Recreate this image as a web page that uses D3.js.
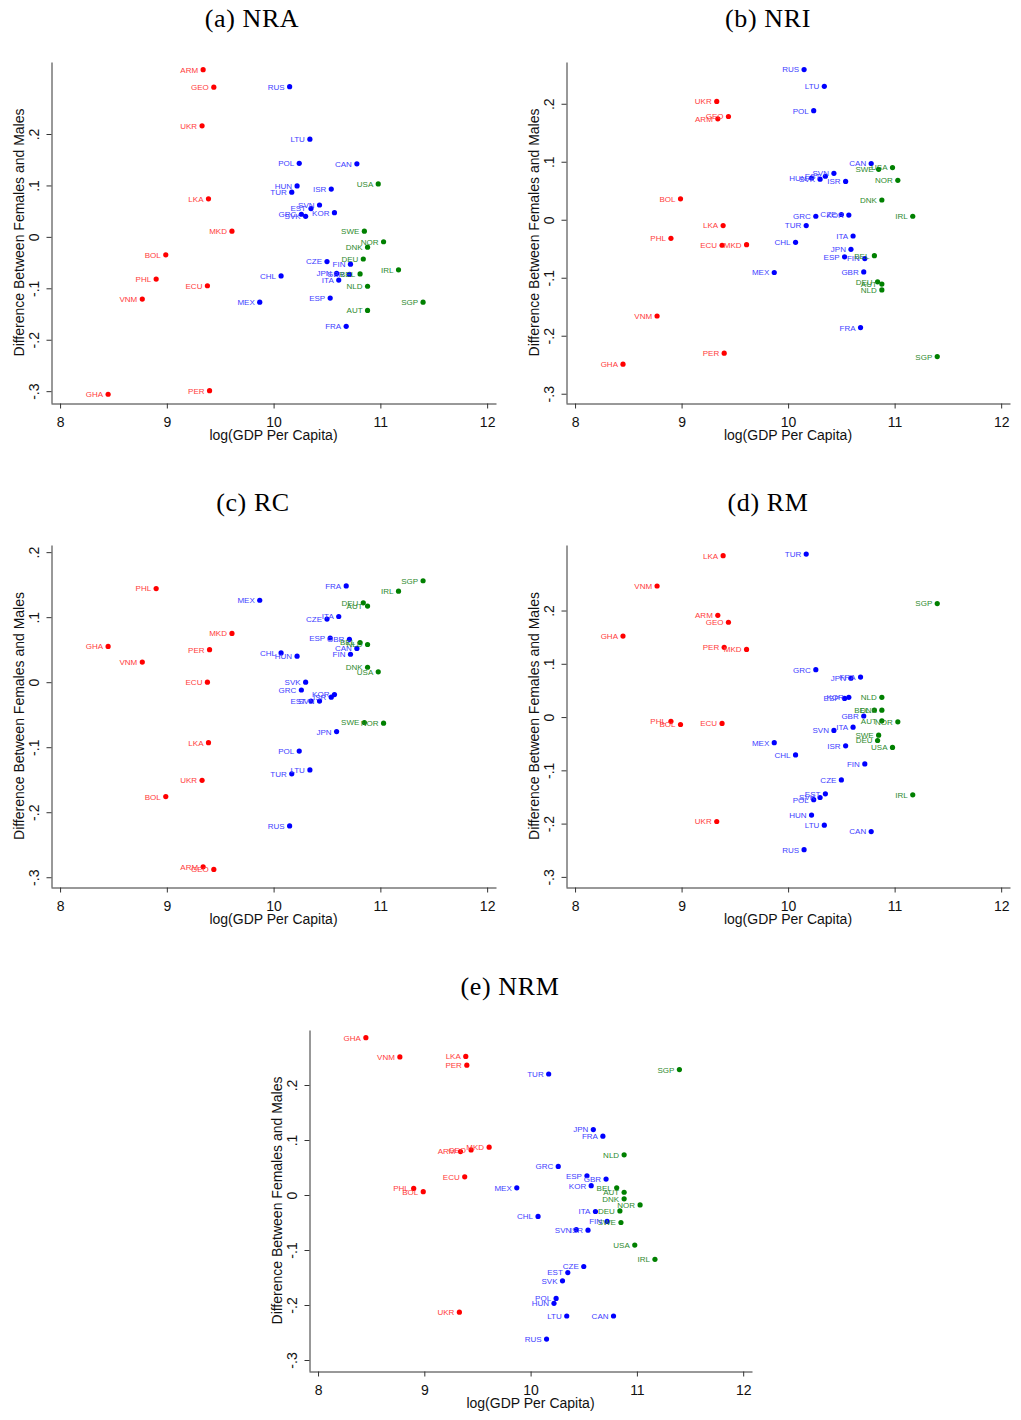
<!DOCTYPE html>
<html><head><meta charset="utf-8">
<script src="https://cdn.jsdelivr.net/npm/d3@7"></script>
<style>body{margin:0;background:#fff;} svg{display:block;}</style>
</head><body>
<svg id="chart" width="1021" height="1420"></svg>
<script>
const countries = ["ARM","GEO","RUS","UKR","LTU","POL","CAN","USA","HUN","TUR","ISR","LKA","SVN","EST","KOR","GRC","SVK","MKD","SWE","NOR","DNK","BOL","DEU","CZE","FIN","IRL","CHL","JPN","GBR","BEL","ITA","PHL","ECU","NLD","VNM","MEX","ESP","SGP","AUT","FRA","GHA","PER"];
const logGDP = [9.34,9.44,10.15,9.33,10.34,10.24,10.78,10.98,10.22,10.17,10.54,9.39,10.43,10.35,10.57,10.26,10.30,9.61,10.85,11.03,10.88,8.99,10.84,10.50,10.72,11.17,10.07,10.59,10.71,10.81,10.61,8.90,9.38,10.88,8.77,9.87,10.53,11.40,10.88,10.68,8.45,9.40];
const group = ["low","low","mid","low","mid","mid","mid","high","mid","mid","mid","low","mid","mid","mid","mid","mid","low","high","high","high","low","high","mid","mid","high","mid","mid","mid","high","mid","low","low","high","low","mid","mid","high","high","mid","low","low"];
const NRA = [0.325,0.291,0.292,0.216,0.190,0.143,0.142,0.103,0.099,0.087,0.093,0.074,0.062,0.055,0.047,0.044,0.040,0.011,0.011,-0.0095,-0.020,-0.035,-0.043,-0.048,-0.053,-0.064,-0.076,-0.071,-0.073,-0.072,-0.084,-0.082,-0.095,-0.096,-0.121,-0.127,-0.119,-0.127,-0.143,-0.174,-0.306,-0.299];
const NRI = [0.174,0.178,0.259,0.204,0.230,0.188,0.097,0.090,0.072,-0.010,0.066,-0.010,0.080,0.075,0.008,0.006,0.070,-0.043,0.087,0.068,0.034,0.036,-0.107,0.009,-0.067,0.006,-0.039,-0.051,-0.090,-0.062,-0.028,-0.032,-0.044,-0.121,-0.166,-0.091,-0.064,-0.236,-0.111,-0.186,-0.249,-0.230];
const RC = [-0.284,-0.288,-0.221,-0.151,-0.135,-0.106,0.052,0.016,0.040,-0.141,-0.023,-0.093,-0.029,-0.029,-0.019,-0.012,0.000,0.075,-0.062,-0.063,0.023,-0.176,0.122,0.097,0.043,0.140,0.045,-0.076,0.066,0.061,0.101,0.144,0.000,0.058,0.031,0.126,0.068,0.156,0.117,0.148,0.055,0.050];
const RM = [0.191,0.178,-0.249,-0.196,-0.203,-0.155,-0.215,-0.057,-0.184,0.306,-0.054,0.303,-0.025,-0.144,0.037,0.089,-0.151,0.127,-0.034,-0.009,0.013,-0.014,-0.044,-0.118,-0.088,-0.146,-0.071,0.073,0.002,0.013,-0.019,-0.008,-0.012,0.037,0.246,-0.048,0.035,0.213,-0.007,0.075,0.152,0.131];
const NRM = [0.079,0.082,-0.262,-0.213,-0.220,-0.188,-0.220,-0.091,-0.197,0.220,-0.064,0.252,-0.063,-0.141,0.017,0.052,-0.156,0.087,-0.050,-0.018,-0.007,0.006,-0.029,-0.130,-0.048,-0.117,-0.039,0.119,0.029,0.013,-0.030,0.012,0.033,0.073,0.251,0.013,0.035,0.228,0.005,0.107,0.286,0.236];
const xTicks = [8,9,10,11,12];
const yTicks = [-0.3,-0.2,-0.1,0,0.1,0.2];
const yTickLabels = ["-.3","-.2","-.1","0",".1",".2"];
const panelTitles = ["(a) NRA","(b) NRI","(c) RC","(d) RM","(e) NRM"];
const xTitle = "log(GDP Per Capita)";
const yTitle = "Difference Between Females and Males";

const colorOf = {low:"#ff0000", mid:"#0000ff", high:"#008000"};
const labelColorOf = {low:"#ff3b3b", mid:"#4040ff", high:"#2e8a2e"};

const panels = [
  {title:panelTitles[0], vals:NRA, x0:51,  x1:496,  yTop:62,   yBot:403,  yDom:[-0.323,0.340], tx:252, ty:27},
  {title:panelTitles[1], vals:NRI, x0:566, x1:1010, yTop:62,   yBot:403,  yDom:[-0.316,0.272], tx:768, ty:27},
  {title:panelTitles[2], vals:RC,  x0:51,  x1:496,  yTop:545,  yBot:887,  yDom:[-0.315,0.211], tx:253, ty:511},
  {title:panelTitles[3], vals:RM,  x0:566, x1:1010, yTop:545,  yBot:887,  yDom:[-0.319,0.323], tx:768, ty:511},
  {title:panelTitles[4], vals:NRM, x0:309, x1:752,  yTop:1030, yBot:1371, yDom:[-0.320,0.300], tx:510, ty:995}
];

const svg = d3.select("#chart");
const sans = "'Liberation Sans', Arial, sans-serif";

panels.forEach(p => {
  const x = d3.scaleLinear().domain([7.915, 12.083]).range([p.x0, p.x1]);
  const y = d3.scaleLinear().domain(p.yDom).range([p.yBot, p.yTop]);
  const g = svg.append("g");

  g.append("text").attr("x", p.tx).attr("y", p.ty).attr("text-anchor","middle")
    .attr("font-family","'Liberation Serif', 'Times New Roman', serif").attr("font-size",26)
    .attr("letter-spacing","0.6px").attr("fill","#000").text(p.title);

  const xa = g.append("g").attr("transform",`translate(0,${p.yBot+0.5})`)
    .call(d3.axisBottom(x).tickValues(xTicks).tickFormat(d3.format("d")).tickSize(5).tickSizeOuter(0));
  xa.selectAll("text").attr("y",23).attr("dy",0).attr("font-size",14).attr("font-family",sans).attr("fill","#111");
  xa.selectAll("path,line").attr("stroke","#333");

  const ya = g.append("g").attr("transform",`translate(${p.x0+0.5},0)`)
    .call(d3.axisLeft(y).tickValues(yTicks).tickFormat((d,i)=>yTickLabels[i]).tickSize(5).tickSizeOuter(0));
  ya.selectAll("text").attr("transform","rotate(-90)").attr("x",0).attr("y",-13).attr("dy",0)
    .attr("text-anchor","middle").attr("font-size",14).attr("font-family",sans).attr("fill","#111");
  ya.selectAll("path,line").attr("stroke","#333");

  g.append("text").attr("x",(p.x0+p.x1)/2).attr("y",p.yBot+37).attr("text-anchor","middle")
    .attr("font-family",sans).attr("font-size",14).attr("fill","#111").text(xTitle);
  g.append("text").attr("transform",`translate(${p.x0-27},${(p.yTop+p.yBot)/2}) rotate(-90)`)
    .attr("text-anchor","middle").attr("font-family",sans).attr("font-size",14).attr("fill","#111").text(yTitle);

  const idx = d3.range(countries.length);
  g.append("g").selectAll("circle").data(idx).join("circle")
    .attr("cx",i=>x(logGDP[i])).attr("cy",i=>y(p.vals[i])).attr("r",2.6)
    .attr("fill",i=>colorOf[group[i]]);
  g.append("g").selectAll("text").data(idx).join("text")
    .attr("x",i=>x(logGDP[i])-5).attr("y",i=>y(p.vals[i])+2.9)
    .attr("text-anchor","end").attr("font-family",sans).attr("font-size",8)
    .attr("fill",i=>labelColorOf[group[i]]).text(i=>countries[i]);
});
</script>
</body></html>
